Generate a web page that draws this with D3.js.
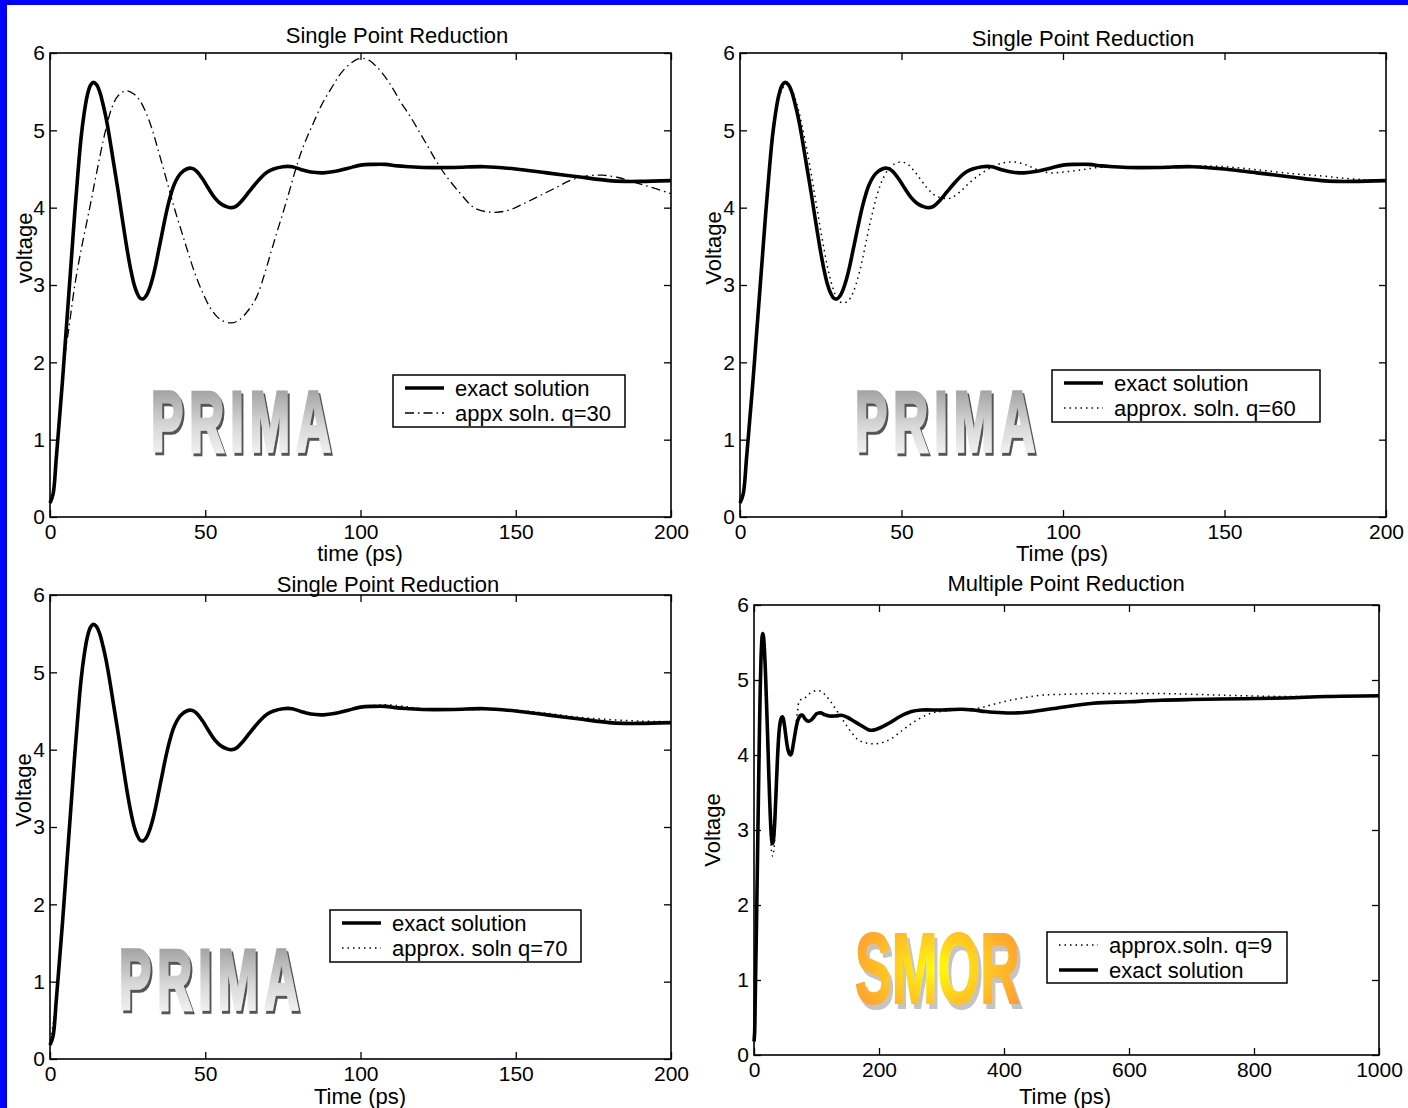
<!DOCTYPE html>
<html>
<head>
<meta charset="utf-8">
<script src="https://cdn.jsdelivr.net/npm/d3@7"></script>
<style>
  body { margin: 0; background: #fff; }
  svg text { font-family: "Liberation Sans", Arial, sans-serif; fill: #000; }
</style>
</head>
<body>
<div id="chart"></div>
<script>
// ---- data, [time (ps), voltage] ----
const exactSolution = [
  [0,0.18],[1,0.3],[2,0.75],[3,1.25],[4,1.75],[5,2.3],[6,2.85],[7,3.4],[8,3.95],[9,4.45],
  [10,4.9],[11,5.22],[12,5.45],[13,5.58],[14,5.62],[15,5.59],[16,5.5],[17,5.35],[18,5.17],[19,4.95],
  [20,4.7],[21,4.45],[22,4.2],[23,3.93],[24,3.67],[25,3.42],[26,3.2],[27,3.02],[28,2.9],[29,2.83],
  [30,2.82],[31,2.86],[32,2.95],[33,3.08],[34,3.25],[35,3.45],[36,3.65],[37,3.85],[38,4.03],[39,4.18],
  [40,4.3],[42,4.44],[44,4.5],[45.5,4.51],[47,4.48],[49,4.38],[51,4.25],[53,4.13],[55,4.05],[57,4.01],
  [58.5,4.0],[60,4.02],[62,4.1],[64,4.2],[66,4.3],[68,4.39],[70,4.46],[72,4.5],[75,4.53],[78,4.53],
  [81,4.49],[84,4.46],[88,4.45],[92,4.47],[96,4.51],[100,4.55],[104,4.56],[108,4.56],[112,4.54],[116,4.53],
  [120,4.52],[130,4.52],[140,4.53],[150,4.5],[160,4.45],[170,4.4],[180,4.35],[185,4.34],[190,4.34],[200,4.35]
];

const approxQ30 = [
  [0,0.18],[1,0.3],[2,0.75],[3,1.25],[4,1.75],[5,2.15],[6,2.42],[8,3.0],[10,3.45],[12.8,4.0],
  [15,4.45],[17.9,5.0],[20,5.3],[22,5.45],[24.5,5.51],[27,5.47],[29,5.38],[31,5.22],[33,5.0],[35,4.72],
  [37.6,4.35],[40,4.0],[42,3.74],[44,3.48],[46.5,3.17],[49.4,2.88],[52,2.68],[55,2.55],[58.6,2.51],
  [61,2.55],[64,2.68],[66.6,2.85],[69,3.13],[71,3.4],[73,3.67],[75,3.93],[77,4.2],[79,4.48],[81,4.73],
  [83,4.93],[85,5.11],[87,5.29],[89,5.44],[91,5.57],[93,5.7],[95,5.8],[97,5.87],[99,5.92],[101,5.93],
  [103,5.9],[105,5.83],[107,5.74],[109,5.63],[111,5.5],[113,5.36],[116,5.18],[121,4.84],[126,4.5],[132,4.19],
  [137,3.99],[143,3.94],[148,3.97],[153,4.06],[158,4.16],[163,4.26],[168,4.36],[173,4.41],[178,4.42],[183,4.39],
  [188,4.33],[194,4.26],[200,4.18]
];

const approxQ60 = [
  [0,0.18],[1,0.3],[2,0.75],[3,1.25],[4,1.75],[5,2.3],[6,2.85],[7,3.4],[8,3.92],[9,4.4],
  [10,4.85],[11,5.17],[12,5.4],[13,5.53],[14,5.58],[15,5.58],[16,5.53],[17,5.42],[18,5.28],[19,5.1],
  [20,4.9],[21,4.68],[22,4.45],[23,4.2],[24,3.95],[25,3.7],[26,3.47],[27,3.25],[28,3.07],[29,2.93],
  [30,2.83],[31,2.78],[32.5,2.77],[34,2.82],[35,2.9],[36,3.02],[37,3.17],[38,3.35],[39,3.55],[40,3.75],
  [41,3.93],[42,4.1],[43,4.24],[44,4.35],[46,4.5],[48,4.57],[50,4.59],[52,4.56],[54,4.47],[56,4.36],
  [58,4.25],[60,4.17],[62,4.13],[65,4.12],[68,4.2],[71,4.32],[74,4.42],[77.4,4.51],[81.5,4.58],[85,4.59],
  [88.8,4.55],[92,4.49],[96,4.45],[100,4.46],[104,4.48],[107.3,4.5],[111,4.52],[115,4.53],[120,4.53],[130,4.53],
  [140,4.54],[150,4.53],[160,4.49],[171,4.44],[180,4.41],[187,4.38],[194,4.36],[200,4.35]
];

const approxQ70 = [
  [0,0.18],[2,0.75],[4,1.75],[6,2.85],[8,3.95],[10,4.9],[12,5.45],[14,5.62],[16,5.5],[18,5.17],
  [20,4.7],[22,4.2],[24,3.67],[26,3.2],[28,2.9],[30,2.82],[32,2.95],[34,3.25],[36,3.65],[38,4.03],
  [40,4.3],[44,4.5],[47,4.48],[51,4.25],[55,4.05],[58.5,4.0],[62,4.1],[66,4.3],[70,4.46],[75,4.53],
  [80,4.51],[88,4.45],[96,4.51],[102,4.56],[108,4.58],[114,4.56],[120,4.53],[130,4.52],[140,4.52],[150,4.51],
  [160,4.47],[170,4.42],[180,4.39],[190,4.37],[200,4.36]
];

const exactLongTail = [
  [186,4.33],[195,4.34],[215,4.42],[235,4.52],[252,4.58],[268,4.6],[300,4.6],[332,4.61],[350,4.6],[370,4.58],
  [383,4.57],[410,4.56],[436,4.57],[480,4.62],[543,4.69],[600,4.71],[650,4.73],[700,4.74],[783,4.75],[850,4.76],
  [916,4.78],[1000,4.79]
];

const approxQ9 = [
  [0,0.18],[2,0.75],[4,1.75],[6,2.85],[8,3.95],[10,4.9],[12,5.45],[14,5.6],[16,5.45],[18,5.1],
  [20,4.6],[22,4.05],[24,3.5],[26,3.0],[28,2.72],[30,2.65],[32,2.75],[34,3.05],[36,3.45],[38,3.85],
  [40,4.15],[43,4.4],[46,4.45],[50,4.3],[54,4.1],[58,4.02],[62,4.12],[66,4.35],[70,4.6],[73,4.73],
  [80,4.75],[86,4.8],[93,4.84],[100,4.86],[107,4.85],[114,4.8],[122,4.72],[130,4.62],[138,4.52],[146,4.42],
  [156,4.3],[167,4.2],[180,4.16],[194,4.15],[207,4.17],[220,4.22],[236,4.32],[252,4.42],[268,4.5],[284,4.56],
  [300,4.58],[316,4.6],[340,4.61],[362,4.63],[385,4.68],[410,4.73],[436,4.77],[463,4.8],[500,4.81],[543,4.82],
  [600,4.82],[650,4.82],[700,4.81],[783,4.79],[850,4.78],[910,4.78],[1000,4.78]
];

const exactLong = exactSolution.filter(d => d[0] <= 180).concat(exactLongTail);

const voltTicks = [0, 1, 2, 3, 4, 5, 6];
const shortTimeTicks = [0, 50, 100, 150, 200];
const longTimeTicks = [0, 200, 400, 600, 800, 1000];

const lineStyles = {
  solid:   { width: 3.6, dash: null },
  dashdot: { width: 1.3, dash: "9,4,1.5,4" },
  dotted:  { width: 1.5, dash: "1.5,4" }
};

const panels = [
  {
    box: { left: 50, right: 671, top: 53, bottom: 517 }, xMax: 200, xTicks: shortTimeTicks,
    title: "Single Point Reduction", titleX: 397, titleY: 43,
    xLabel: "time (ps)", xLabelX: 360, xLabelY: 561,
    yLabel: "voltage", yLabelX: 32, yLabelY: 248,
    series: [ { data: exactSolution, style: "solid" }, { data: approxQ30, style: "dashdot" } ],
    legend: { x: 393, y: 375, w: 232, h: 52,
      items: [ { label: "exact solution", style: "solid" }, { label: "appx soln. q=30", style: "dashdot" } ] },
    logo: { text: "PRIMA", kind: "prima", x: 151, y: 451 }
  },
  {
    box: { left: 740, right: 1386, top: 53, bottom: 517 }, xMax: 200, xTicks: shortTimeTicks,
    title: "Single Point Reduction", titleX: 1083, titleY: 46,
    xLabel: "Time (ps)", xLabelX: 1062, xLabelY: 561,
    yLabel: "Voltage", yLabelX: 721, yLabelY: 248,
    series: [ { data: exactSolution, style: "solid" }, { data: approxQ60, style: "dotted" } ],
    legend: { x: 1052, y: 370, w: 268, h: 52,
      items: [ { label: "exact solution", style: "solid" }, { label: "approx. soln. q=60", style: "dotted" } ] },
    logo: { text: "PRIMA", kind: "prima", x: 855, y: 451 }
  },
  {
    box: { left: 50, right: 671, top: 595, bottom: 1059 }, xMax: 200, xTicks: shortTimeTicks,
    title: "Single Point Reduction", titleX: 388, titleY: 592,
    xLabel: "Time (ps)", xLabelX: 360, xLabelY: 1104,
    yLabel: "Voltage", yLabelX: 31, yLabelY: 790,
    series: [ { data: exactSolution, style: "solid" }, { data: approxQ70, style: "dotted" } ],
    legend: { x: 330, y: 910, w: 251, h: 52,
      items: [ { label: "exact solution", style: "solid" }, { label: "approx. soln q=70", style: "dotted" } ] },
    logo: { text: "PRIMA", kind: "prima", x: 119, y: 1009 }
  },
  {
    box: { left: 754, right: 1379, top: 605, bottom: 1055 }, xMax: 1000, xTicks: longTimeTicks,
    title: "Multiple Point Reduction", titleX: 1066, titleY: 591,
    xLabel: "Time (ps)", xLabelX: 1065, xLabelY: 1104,
    yLabel: "Voltage", yLabelX: 720, yLabelY: 830,
    series: [ { data: approxQ9, style: "dotted" }, { data: exactLong, style: "solid" } ],
    legend: { x: 1047, y: 932, w: 240, h: 51,
      items: [ { label: "approx.soln. q=9", style: "dotted" }, { label: "exact solution", style: "solid" } ] },
    logo: { text: "SMOR", kind: "smor", x: 855, y: 1003 }
  }
];

const W = 1408, H = 1108;

const svg = d3.select("#chart").append("svg")
  .attr("width", W).attr("height", H);

// blue slide frame on the left and top
svg.append("rect").attr("width", W).attr("height", H).attr("fill", "#0000ff");
svg.append("rect").attr("x", 7).attr("y", 5).attr("width", W - 7).attr("height", H - 5).attr("fill", "#fff");

let defs = svg.append("defs");

let primaGrad = defs.append("linearGradient").attr("id", "primaGrad")
  .attr("x1", 0).attr("y1", 0).attr("x2", 0).attr("y2", 1);
primaGrad.append("stop").attr("offset", "0%").attr("stop-color", "#8a8a8a");
primaGrad.append("stop").attr("offset", "55%").attr("stop-color", "#d8d8d8");
primaGrad.append("stop").attr("offset", "100%").attr("stop-color", "#ffffff");

let smorGrad = defs.append("radialGradient").attr("id", "smorGrad")
  .attr("cx", 0.5).attr("cy", 0.5).attr("r", 0.6);
smorGrad.append("stop").attr("offset", "0%").attr("stop-color", "#ffff00");
smorGrad.append("stop").attr("offset", "45%").attr("stop-color", "#ffcc22");
smorGrad.append("stop").attr("offset", "100%").attr("stop-color", "#ff9933");

// drop shadows done as filters so each logo stays one text
function makeShadow(id, dx, dy, color) {
  let f = defs.append("filter").attr("id", id)
    .attr("x", "-10%").attr("y", "-10%").attr("width", "130%").attr("height", "130%");
  f.append("feOffset").attr("in", "SourceAlpha").attr("dx", dx).attr("dy", dy).attr("result", "off");
  f.append("feFlood").attr("flood-color", color).attr("result", "col");
  f.append("feComposite").attr("in", "col").attr("in2", "off").attr("operator", "in").attr("result", "shadow");
  let m = f.append("feMerge");
  m.append("feMergeNode").attr("in", "shadow");
  m.append("feMergeNode").attr("in", "SourceGraphic");
}
makeShadow("primaShadow", 4, 3, "#555555");
makeShadow("smorShadow", 5, 5, "#c4c4c4");

function drawLogo(g, logo) {
  let isPrima = logo.kind === "prima";
  let grad = isPrima ? "url(#primaGrad)" : "url(#smorGrad)";
  g.append("text")
    .attr("transform", "translate(" + logo.x + "," + logo.y + ") scale(" + (isPrima ? 0.56 : 0.55) + ",1)")
    .style("font-family", "'Liberation Sans', Arial, sans-serif")
    .style("font-weight", "bold")
    .style("font-size", (isPrima ? 86 : 100) + "px")
    .style("letter-spacing", (isPrima ? 11 : 0) + "px")
    .style("fill", grad)
    .style("stroke", grad)
    .style("stroke-width", isPrima ? 3.5 : 2)
    .style("stroke-linejoin", "miter")
    .attr("filter", isPrima ? "url(#primaShadow)" : "url(#smorShadow)")
    .text(logo.text);
}

function drawPanel(p) {
  let g = svg.append("g");
  let b = p.box;

  let x = d3.scaleLinear().domain([0, p.xMax]).range([b.left, b.right]);
  let y = d3.scaleLinear().domain([0, 6]).range([b.bottom, b.top]);

  // axes: MATLAB style, ticks pointing inwards on all four sides
  g.append("g").attr("transform", "translate(0," + b.bottom + ")")
    .call(d3.axisBottom(x).tickValues(p.xTicks).tickSizeInner(-7).tickSizeOuter(0).tickPadding(7).tickFormat(d3.format("d")));
  g.append("g").attr("transform", "translate(" + b.left + ",0)")
    .call(d3.axisLeft(y).tickValues(voltTicks).tickSizeInner(-7).tickSizeOuter(0).tickPadding(5).tickFormat(d3.format("d")));
  g.append("g").attr("transform", "translate(0," + b.top + ")")
    .call(d3.axisTop(x).tickValues(p.xTicks).tickSizeInner(-7).tickSizeOuter(0).tickFormat(""));
  g.append("g").attr("transform", "translate(" + b.right + ",0)")
    .call(d3.axisRight(y).tickValues(voltTicks).tickSizeInner(-7).tickSizeOuter(0).tickFormat(""));

  g.selectAll(".domain").remove();
  g.selectAll(".tick line").attr("stroke", "#000").attr("stroke-width", 1.3);
  g.selectAll(".tick text").style("font-size", "21px").attr("fill", "#000");

  g.append("rect")
    .attr("x", b.left).attr("y", b.top)
    .attr("width", b.right - b.left).attr("height", b.bottom - b.top)
    .attr("fill", "none").attr("stroke", "#000").attr("stroke-width", 1.6);

  // title and axis labels
  g.append("text").attr("x", p.titleX).attr("y", p.titleY)
    .attr("text-anchor", "middle").style("font-size", "22px").text(p.title);
  g.append("text").attr("x", p.xLabelX).attr("y", p.xLabelY)
    .attr("text-anchor", "middle").style("font-size", "22px").text(p.xLabel);
  g.append("text")
    .attr("transform", "translate(" + p.yLabelX + "," + p.yLabelY + ") rotate(-90)")
    .attr("text-anchor", "middle").style("font-size", "22px").text(p.yLabel);

  drawLogo(g, p.logo);

  let line = d3.line()
    .x(d => x(d[0]))
    .y(d => y(d[1]))
    .curve(d3.curveCatmullRom.alpha(0.5));

  p.series.forEach(function (s) {
    let st = lineStyles[s.style];
    g.append("path")
      .datum(s.data)
      .attr("d", line)
      .attr("fill", "none")
      .attr("stroke", "#000")
      .attr("stroke-width", st.width)
      .attr("stroke-linejoin", "round")
      .attr("stroke-dasharray", st.dash);
  });

  // legend box
  let L = p.legend;
  let lg = g.append("g").attr("transform", "translate(" + L.x + "," + L.y + ")");
  lg.append("rect").attr("width", L.w).attr("height", L.h)
    .attr("fill", "#fff").attr("stroke", "#000").attr("stroke-width", 1.5);
  L.items.forEach(function (item, i) {
    let cy = 13 + i * 25;
    let st = lineStyles[item.style];
    lg.append("line")
      .attr("x1", 12).attr("x2", 51).attr("y1", cy).attr("y2", cy)
      .attr("stroke", "#000").attr("stroke-width", st.width)
      .attr("stroke-dasharray", st.dash);
    lg.append("text").attr("x", 62).attr("y", cy + 8)
      .style("font-size", "22px").text(item.label);
  });
}

panels.forEach(drawPanel);
</script>
</body>
</html>
